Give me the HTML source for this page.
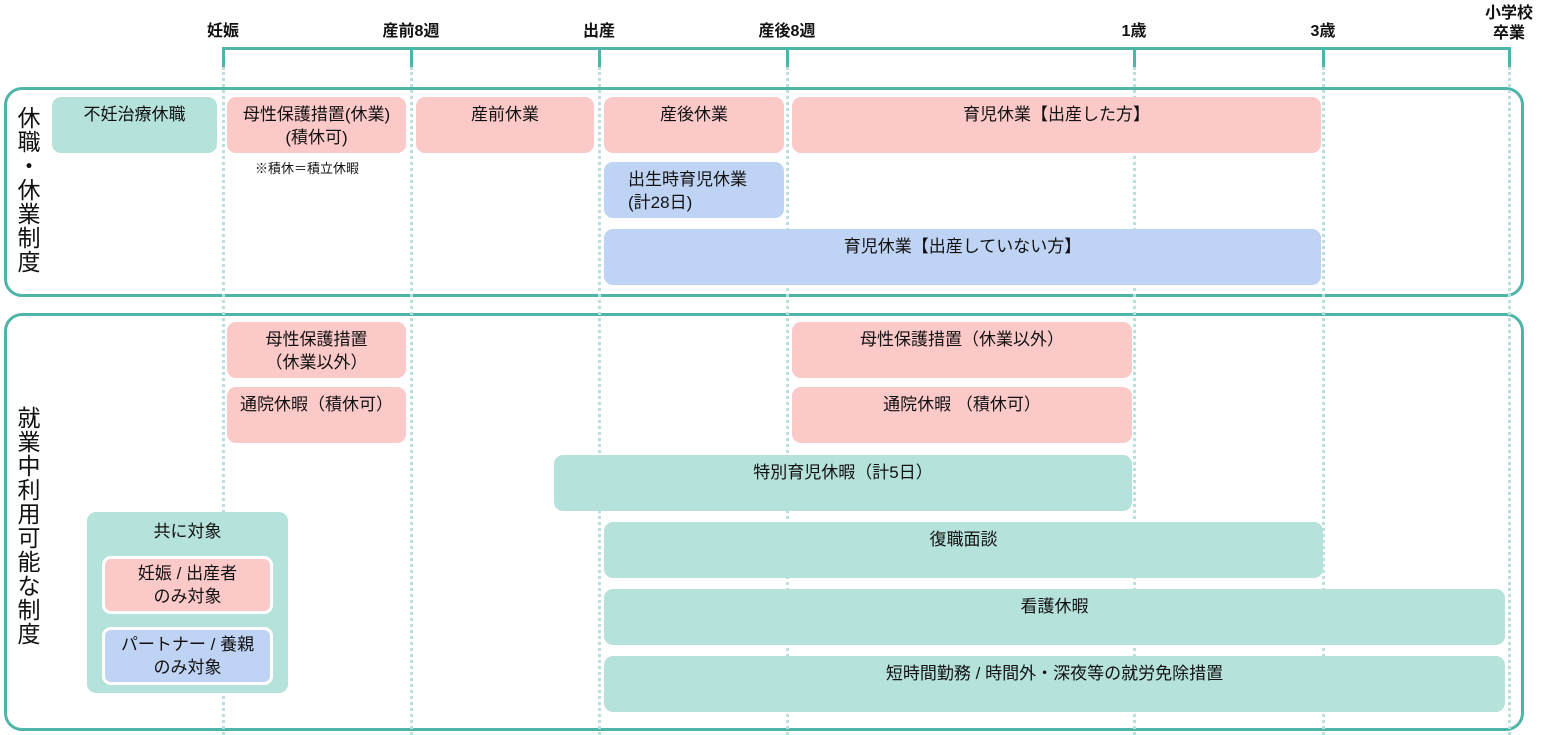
<!DOCTYPE html>
<html><head><meta charset="utf-8"><style>
body{margin:0;width:1546px;height:735px;background:#fff;position:relative;overflow:hidden;font-family:"Liberation Sans","Noto Sans CJK JP",sans-serif;color:#111}
.a{position:absolute}
.lbl{position:absolute;top:22px;font-size:16px;font-weight:bold;transform:translateX(-50%);white-space:nowrap;line-height:20px;text-align:center}
.tick{position:absolute;top:47px;width:3px;height:20px;background:#4fb5a8}
.dot{position:absolute;top:67px;height:668px;border-left:3px dotted #b8e0dc}
.panel{position:absolute;left:4px;width:1514px;border:3px solid #4fb5a8;border-radius:18px}
.b{position:absolute;border-radius:9px;font-size:17px;line-height:23px;text-align:center;padding-top:6px;box-sizing:border-box}
.p{background:#fcc9c9}.t{background:#b6e2dc}.bl{background:#bfd4f4}
.v{position:absolute;left:15px;width:28px;font-size:23px;line-height:24px;text-align:center}
</style></head><body>
<div class="a" style="left:222px;top:47px;width:1289px;height:3px;background:#4fb5a8"></div>
<div class="tick" style="left:222px"></div><div class="tick" style="left:410px"></div><div class="tick" style="left:598px"></div><div class="tick" style="left:786px"></div><div class="tick" style="left:1133px"></div><div class="tick" style="left:1322px"></div><div class="tick" style="left:1508px"></div>
<div class="lbl" style="left:223px">妊娠</div><div class="lbl" style="left:411px">産前8週</div><div class="lbl" style="left:599px">出産</div><div class="lbl" style="left:787px">産後8週</div><div class="lbl" style="left:1134px">1歳</div><div class="lbl" style="left:1323px">3歳</div><div class="lbl" style="left:1509px;top:4px">小学校<br>卒業</div>
<div class="panel" style="top:87px;height:204px"></div>
<div class="panel" style="top:313px;height:412px"></div>
<div class="dot" style="left:222px"></div><div class="dot" style="left:410px"></div><div class="dot" style="left:598px"></div><div class="dot" style="left:786px"></div><div class="dot" style="left:1133px"></div><div class="dot" style="left:1322px"></div><div class="dot" style="left:1508px"></div>
<div class="v" style="top:106px">休<br>職<br>・<br>休<br>業<br>制<br>度</div>
<div class="v" style="top:406px">就<br>業<br>中<br>利<br>用<br>可<br>能<br>な<br>制<br>度</div>
<div class="b t" style="left:52px;top:97px;width:165px;height:56px">不妊治療休職</div>
<div class="b p" style="left:227px;top:97px;width:179px;height:56px">母性保護措置(休業)<br>(積休可)</div>
<div class="a" style="left:255px;top:158px;font-size:13px">※積休＝積立休暇</div>
<div class="b p" style="left:416px;top:97px;width:178px;height:56px">産前休業</div>
<div class="b p" style="left:604px;top:97px;width:180px;height:56px">産後休業</div>
<div class="b p" style="left:792px;top:97px;width:529px;height:56px">育児休業【出産した方】</div>
<div class="b bl" style="left:604px;top:162px;width:180px;height:56px;text-align:left;padding-left:24px">出生時育児休業<br>(計28日)</div>
<div class="b bl" style="left:604px;top:229px;width:717px;height:56px">育児休業【出産していない方】</div>
<div class="b p" style="left:227px;top:322px;width:179px;height:56px">母性保護措置<br>（休業以外）</div>
<div class="b p" style="left:227px;top:387px;width:179px;height:56px">通院休暇（積休可）</div>
<div class="b p" style="left:792px;top:322px;width:340px;height:56px">母性保護措置（休業以外）</div>
<div class="b p" style="left:792px;top:387px;width:340px;height:56px">通院休暇 （積休可）</div>
<div class="b t" style="left:554px;top:455px;width:578px;height:56px">特別育児休暇（計5日）</div>
<div class="b t" style="left:604px;top:522px;width:719px;height:56px">復職面談</div>
<div class="b t" style="left:604px;top:589px;width:901px;height:56px">看護休暇</div>
<div class="b t" style="left:604px;top:656px;width:901px;height:56px">短時間勤務 / 時間外・深夜等の就労免除措置</div>
<div class="b t" style="left:87px;top:512px;width:201px;height:181px;padding-top:8px">共に対象</div>
<div class="b p" style="left:102px;top:556px;width:171px;height:58px;border:3px solid #fff;padding-top:3px">妊娠 / 出産者<br>のみ対象</div>
<div class="b bl" style="left:102px;top:627px;width:171px;height:58px;border:3px solid #fff;padding-top:3px">パートナー / 養親<br>のみ対象</div>
</body></html>
